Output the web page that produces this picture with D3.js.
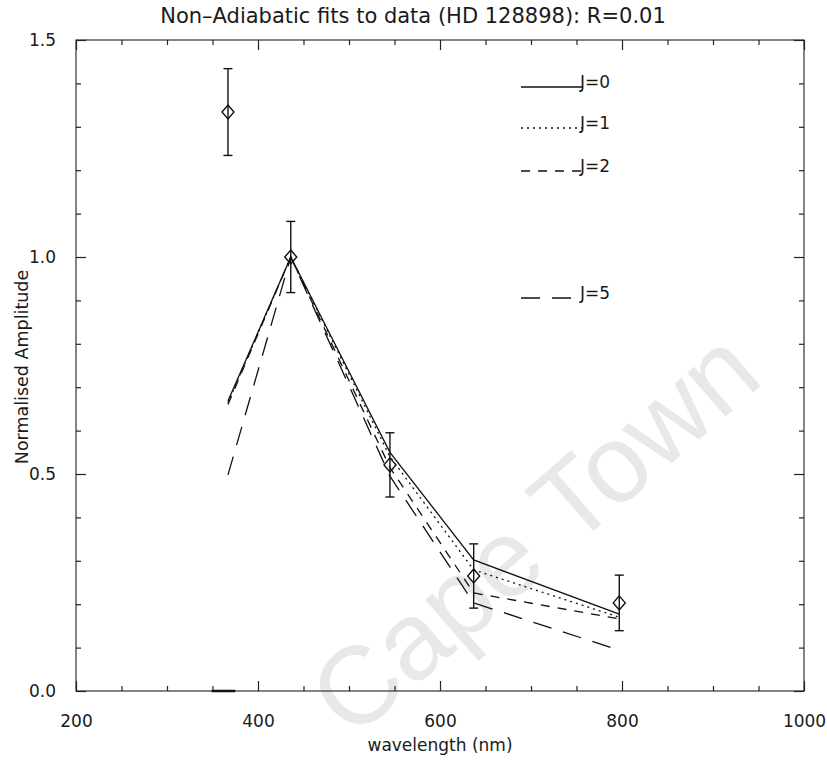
<!DOCTYPE html>
<html>
<head>
<meta charset="utf-8">
<script src="https://cdn.jsdelivr.net/npm/d3@7"></script>
<style>
body { margin: 0; background: #fff; }
text { font-family: "DejaVu Sans", "Liberation Sans", sans-serif; fill: #1a1a1a; }
</style>
</head>
<body>
<svg id="plot" width="827" height="762"></svg>
<script>
// data
const wavelengths = [367, 436, 545, 637, 797];
const observed = [1.334, 1.0, 0.521, 0.265, 0.203];
const obsError = [0.10, 0.082, 0.074, 0.074, 0.064];
const fitJ0 = [0.668, 1.0, 0.55, 0.302, 0.177];
const fitJ1 = [0.664, 1.0, 0.54, 0.279, 0.170];
const fitJ2 = [0.660, 1.0, 0.515, 0.226, 0.166];
const fitJ5 = [0.498, 1.0, 0.495, 0.203, 0.094];
const floorSegX = [349, 375];
const floorSegY = [0, 0];
const xMajor = [200, 400, 600, 800, 1000];
const yMajor = [0.0, 0.5, 1.0, 1.5];
const legendNames = ["J=0", "J=1", "J=2", "J=5"];

const svg = d3.select("#plot");
const margin = {top: 40, right: 23, bottom: 71, left: 76};
const width = 827 - margin.left - margin.right;
const height = 762 - margin.top - margin.bottom;

const x = d3.scaleLinear().domain([200, 1000]).range([0, width]);
const y = d3.scaleLinear().domain([0, 1.5]).range([height, 0]);

// watermark behind everything
svg.append("text")
  .attr("transform", "translate(352,741) rotate(-41)")
  .style("font-family", "Liberation Sans")
  .style("font-size", "110px")
  .style("fill", "#e8e8e8")
  .text("Cape Town");

const g = svg.append("g").attr("transform", `translate(${margin.left},${margin.top})`);

// title
svg.append("text")
  .attr("x", 413).attr("y", 23)
  .attr("text-anchor", "middle")
  .style("font-size", "21px")
  .text("Non\u2013Adiabatic fits to data (HD 128898): R=0.01");

// frame
g.append("rect").attr("width", width).attr("height", height)
  .attr("fill", "none").attr("stroke", "#333").attr("stroke-width", 1.2);

const minorX = d3.range(200, 1001, 50).filter(v => !xMajor.includes(v));
const minorY = d3.range(0, 16).map(v => v / 10).filter(v => !yMajor.includes(v));

function tidy(sel) {
  sel.select(".domain").remove();
  sel.selectAll(".tick line").attr("stroke", "#222").attr("stroke-width", 1.2);
}

// bottom axis with labels
g.append("g").attr("transform", `translate(0,${height})`)
  .call(d3.axisBottom(x).tickValues(xMajor).tickSize(-10).tickPadding(24).tickFormat(d3.format("d")))
  .call(tidy)
  .call(a => a.selectAll("text").style("font-size", "17px").style("font-family", "DejaVu Sans"));
g.append("g").attr("transform", `translate(0,${height})`)
  .call(d3.axisBottom(x).tickValues(minorX).tickSize(-5).tickFormat(""))
  .call(tidy);
// top axis
g.append("g")
  .call(d3.axisTop(x).tickValues(xMajor).tickSize(-10).tickFormat(""))
  .call(tidy);
g.append("g")
  .call(d3.axisTop(x).tickValues(minorX).tickSize(-5).tickFormat(""))
  .call(tidy);
// left axis with labels
g.append("g")
  .call(d3.axisLeft(y).tickValues(yMajor).tickSize(-10).tickPadding(20).tickFormat(d3.format(".1f")))
  .call(tidy)
  .call(a => a.selectAll("text").style("font-size", "17px").style("font-family", "DejaVu Sans"));
g.append("g")
  .call(d3.axisLeft(y).tickValues(minorY).tickSize(-5).tickFormat(""))
  .call(tidy);
// right axis
g.append("g").attr("transform", `translate(${width},0)`)
  .call(d3.axisRight(y).tickValues(yMajor).tickSize(-10).tickFormat(""))
  .call(tidy);
g.append("g").attr("transform", `translate(${width},0)`)
  .call(d3.axisRight(y).tickValues(minorY).tickSize(-5).tickFormat(""))
  .call(tidy);

// axis titles
svg.append("text")
  .attr("x", 440).attr("y", 751)
  .attr("text-anchor", "middle")
  .style("font-size", "17px")
  .text("wavelength (nm)");
svg.append("text")
  .attr("transform", "translate(28,367) rotate(-90)")
  .attr("text-anchor", "middle")
  .style("font-size", "17.5px")
  .text("Normalised  Amplitude");

// model curves
const fits = [fitJ0, fitJ1, fitJ2, fitJ5];
const dashes = [null, "2,4", "9,8", "19,12"];
const line = d3.line().x(d => x(d[0])).y(d => y(d[1]));

fits.forEach((f, i) => {
  g.append("path")
    .datum(wavelengths.map((w, k) => [w, f[k]]))
    .attr("d", line)
    .attr("fill", "none")
    .attr("stroke", "#111")
    .attr("stroke-width", 1.3)
    .attr("stroke-dasharray", dashes[i]);
});

g.append("path")
  .datum(floorSegX.map((w, k) => [w, floorSegY[k]]))
  .attr("d", line)
  .attr("fill", "none")
  .attr("stroke", "#111")
  .attr("stroke-width", 2.5);

// observed points with error bars
const pts = wavelengths.map((w, k) => ({w: w, v: observed[k], e: obsError[k]}));
const pg = g.selectAll(".pt").data(pts).enter().append("g").attr("class", "pt");
pg.append("line")
  .attr("x1", d => x(d.w)).attr("x2", d => x(d.w))
  .attr("y1", d => y(d.v + d.e)).attr("y2", d => y(d.v - d.e))
  .attr("stroke", "#111").attr("stroke-width", 1.4);
pg.append("line")
  .attr("x1", d => x(d.w) - 4.5).attr("x2", d => x(d.w) + 4.5)
  .attr("y1", d => y(d.v + d.e)).attr("y2", d => y(d.v + d.e))
  .attr("stroke", "#111").attr("stroke-width", 1.4);
pg.append("line")
  .attr("x1", d => x(d.w) - 4.5).attr("x2", d => x(d.w) + 4.5)
  .attr("y1", d => y(d.v - d.e)).attr("y2", d => y(d.v - d.e))
  .attr("stroke", "#111").attr("stroke-width", 1.4);
pg.append("path")
  .attr("d", d => {
    const cx = x(d.w), cy = y(d.v);
    return `M${cx},${cy - 7}L${cx + 6},${cy}L${cx},${cy + 7}L${cx - 6},${cy}Z`;
  })
  .attr("fill", "none").attr("stroke", "#111").attr("stroke-width", 1.4);

// legend
const legendY = [87, 128, 171, 298];
legendNames.forEach((name, i) => {
  svg.append("line")
    .attr("x1", 521).attr("x2", 583)
    .attr("y1", legendY[i]).attr("y2", legendY[i])
    .attr("stroke", "#111").attr("stroke-width", 1.3)
    .attr("stroke-dasharray", dashes[i]);
  svg.append("text")
    .attr("x", 580).attr("y", legendY[i] + 1)
    .style("font-size", "17px")
    .text(name);
});
</script>
</body>
</html>
